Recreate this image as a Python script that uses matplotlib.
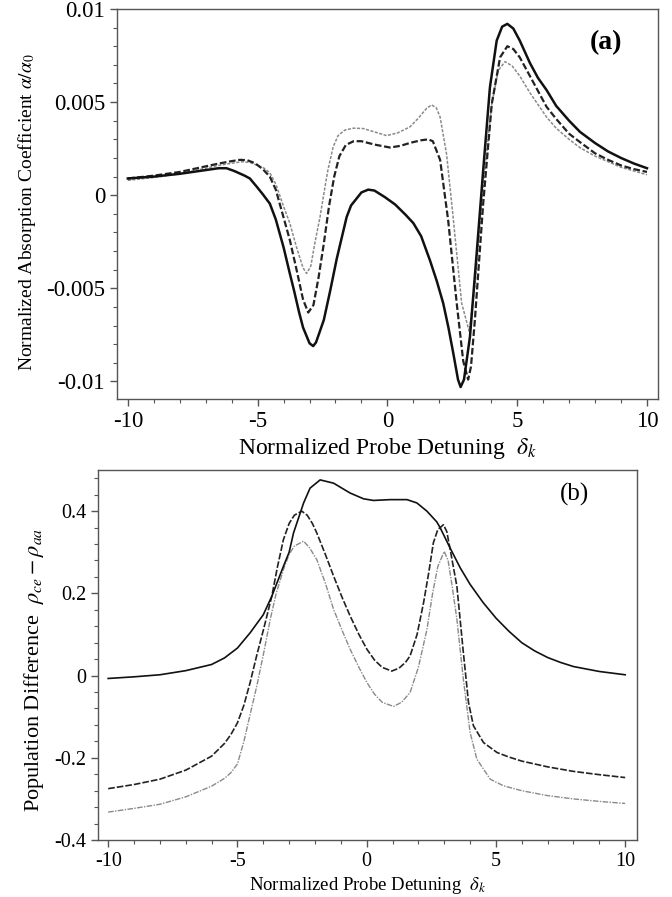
import numpy as np
import matplotlib
matplotlib.use("Agg")
import matplotlib.pyplot as plt
from matplotlib.ticker import MultipleLocator

plt.rcParams['font.family'] = ['Liberation Serif', 'DejaVu Serif']
plt.rcParams['mathtext.fontset'] = 'stix'

# ---- panel (a): absorption coefficient (values in units of 1e-3) ----
xa_solid = [-10, -9, -8, -7, -6.5, -6.2, -5.9, -5.5, -5.3, -5.0, -4.8, -4.53, -4.3, -4.0, -3.76,
            -3.6, -3.4, -3.25, -3.0, -2.86, -2.75, -2.6, -2.45, -2.2, -1.95, -1.57, -1.4, -1.0,
            -0.74, -0.5, -0.1, 0.3, 0.7, 1.0, 1.3, 1.64, 1.9, 2.15, 2.35, 2.54, 2.72, 2.82,
            2.95, 3.18, 3.44, 3.69, 3.95, 4.21, 4.42, 4.62, 4.85, 5.1, 5.49, 5.8, 6.13, 6.5,
            7.0, 7.42, 8.0, 8.5, 9.0, 9.5, 10]
ya_solid = [0.9, 1.0, 1.15, 1.35, 1.45, 1.45, 1.3, 1.05, 0.9, 0.4, 0.05, -0.45, -1.3, -2.8, -4.2,
            -5.1, -6.3, -7.1, -7.95, -8.1, -7.9, -7.3, -6.7, -5.1, -3.4, -1.17, -0.55, 0.15,
            0.3, 0.25, -0.1, -0.5, -1.05, -1.5, -2.2, -3.5, -4.6, -5.8, -7.1, -8.5, -9.9, -10.3,
            -9.9, -7.6, -3.1, 1.34, 5.8, 8.3, 9.05, 9.2, 8.95, 8.3, 7.1, 6.3, 5.65, 4.8,
            4.0, 3.4, 2.8, 2.35, 2.0, 1.7, 1.45]

xa_dash = [-10, -9, -8, -7, -6.5, -6.0, -5.68, -5.4, -5.1, -4.8, -4.53, -4.3, -4.0, -3.76, -3.5,
           -3.25, -3.05, -2.85, -2.65, -2.45, -2.25, -2.05, -1.85, -1.6, -1.3, -1.0, -0.5, 0.1,
           0.5, 0.9, 1.3, 1.57, 1.75, 2.03, 2.34, 2.67, 2.92, 3.11, 3.22, 3.37, 3.69, 4.02,
           4.34, 4.62, 4.85, 5.1, 5.49, 6.13, 6.5, 7.0, 7.42, 8, 8.5, 9, 9.5, 10]
ya_dash = [0.9, 1.05, 1.25, 1.55, 1.7, 1.83, 1.9, 1.88, 1.72, 1.4, 1.0, 0.3, -1.2, -2.4, -4.0,
           -5.6, -6.3, -5.9, -4.4, -2.6, -0.6, 1.0, 2.1, 2.7, 2.9, 2.9, 2.72, 2.56,
           2.65, 2.82, 2.95, 3.0, 2.9, 1.9, -1.34, -5.8, -8.9, -9.9, -9.2, -6.7, -0.45, 4.9,
           7.4, 8.0, 7.85, 7.4, 6.4, 4.75, 4.1, 3.3, 2.85, 2.25, 1.9, 1.6, 1.4, 1.25]

xa_gray = [-10, -9, -8, -7, -6.5, -6.07, -5.6, -5.3, -5.0, -4.75, -4.53, -4.3, -4.0, -3.76, -3.5,
           -3.25, -3.11, -2.95, -2.8, -2.6, -2.47, -2.3, -2.09, -1.9, -1.64, -1.3, -0.93, -0.5,
           -0.03, 0.4, 0.87, 1.2, 1.5, 1.7, 1.88, 2.03, 2.28, 2.54, 2.86, 3.15, 3.37, 3.69,
           4.02, 4.27, 4.53, 4.8, 5.1, 5.49, 6.13, 6.5, 7.0, 7.42, 8, 8.5, 9, 9.5, 10]
ya_gray = [0.8, 0.95, 1.15, 1.45, 1.6, 1.7, 1.8, 1.76, 1.6, 1.45, 1.2, 0.6, -0.6, -1.5, -2.8,
           -3.9, -4.2, -3.8, -2.6, -1.2, -0.1, 1.3, 2.6, 3.2, 3.5, 3.6, 3.58, 3.4,
           3.2, 3.35, 3.67, 4.15, 4.65, 4.85, 4.7, 4.2, 2.2, -1.3, -5.8, -7.3, -4.9, 0.45,
           4.9, 6.7, 7.17, 6.95, 6.4, 5.5, 4.2, 3.6, 3.0, 2.55, 2.1, 1.8, 1.5, 1.3, 1.1]

# ---- panel (b): population difference ----
xb_solid = [-10, -9, -8, -7, -6, -5.5, -5, -4.51, -4, -3.67, -3.22, -3.0, -2.83, -2.44, -2.19,
            -1.8, -1.28, -0.64, -0.12, 0.26, 0.91, 1.56, 1.94, 2.33, 2.71, 2.84, 3.23, 3.62,
            4.0, 4.5, 5, 5.5, 6, 6.5, 7, 7.5, 8, 9, 10]
yb_solid = [-0.007, -0.003, 0.002, 0.012, 0.027, 0.043, 0.067, 0.104, 0.148, 0.193, 0.266, 0.30,
            0.347, 0.42, 0.456, 0.476, 0.468, 0.444, 0.43, 0.426, 0.428, 0.428, 0.42, 0.40,
            0.374, 0.36, 0.31, 0.262, 0.222, 0.178, 0.14, 0.108, 0.08, 0.06, 0.044, 0.032,
            0.022, 0.01, 0.002]

xb_dash = [-10, -9, -8, -7, -6, -5.5, -5.25, -5, -4.75, -4.51, -4.25, -4, -3.67, -3.45, -3.22,
           -3.0, -2.8, -2.51, -2.3, -2.1, -1.93, -1.6, -1.28, -0.95, -0.64, -0.3, 0.01, 0.3,
           0.6, 0.97, 1.25, 1.5, 1.68, 1.95, 2.2, 2.4, 2.58, 2.75, 2.97, 3.1, 3.25, 3.49,
           3.74, 3.94, 4.13, 4.52, 5.04, 5.5, 6, 7, 8, 9, 10]
yb_dash = [-0.275, -0.265, -0.252, -0.23, -0.196, -0.165, -0.143, -0.115, -0.072, -0.017, 0.05,
           0.11, 0.193, 0.265, 0.331, 0.37, 0.39, 0.4, 0.39, 0.37, 0.347, 0.295, 0.242, 0.19,
           0.145, 0.1, 0.064, 0.038, 0.02, 0.011, 0.018, 0.032, 0.048, 0.1, 0.177, 0.25,
           0.323, 0.355, 0.367, 0.35, 0.3, 0.217, 0.056, -0.066, -0.122, -0.163, -0.187,
           -0.198, -0.208, -0.222, -0.233, -0.241, -0.248]

xb_gray = [-10, -9, -8, -7, -6, -5.5, -5.25, -5, -4.75, -4.51, -4.25, -4, -3.73, -3.5, -3.22,
           -3.0, -2.8, -2.44, -2.2, -1.93, -1.6, -1.28, -0.95, -0.64, -0.3, 0.01, 0.3, 0.6,
           1.04, 1.35, 1.68, 2.0, 2.33, 2.55, 2.75, 3.0, 3.15, 3.3, 3.49, 3.74, 4.0, 4.26,
           4.78, 5.29, 6, 7, 8, 9, 10]
yb_gray = [-0.332, -0.323, -0.313, -0.295, -0.269, -0.25, -0.236, -0.215, -0.16, -0.095,
           -0.025, 0.05, 0.137, 0.2, 0.258, 0.295, 0.315, 0.327, 0.31, 0.282, 0.225, 0.161,
           0.11, 0.064, 0.02, -0.017, -0.045, -0.065, -0.075, -0.065, -0.041, 0.02, 0.112,
           0.2, 0.265, 0.302, 0.28, 0.22, 0.137, -0.009, -0.138, -0.203, -0.252, -0.268,
           -0.28, -0.292, -0.3, -0.306, -0.311]

fig = plt.figure(figsize=(6.72, 8.97), dpi=100)
ax1 = fig.add_axes([0.174, 0.555, 0.805, 0.435])
ax2 = fig.add_axes([0.146, 0.0635, 0.802, 0.4125])

ax1.plot(xa_gray, np.array(ya_gray) * 1e-3, color='#8a8a8a', lw=1.1, ls=(0, (2, 1)))
ax1.plot(xa_dash, np.array(ya_dash) * 1e-3, color='#222222', lw=1.6, ls=(0, (3, 1.2)))
ax1.plot(xa_solid, np.array(ya_solid) * 1e-3, color='#111111', lw=1.8)
ax1.set_xlim(-10.42, 10.42)
ax1.set_ylim(-0.01095, 0.01)
ax1.set_yticks([-0.01, -0.005, 0, 0.005, 0.01])
ax1.set_yticklabels(['-0.01', '-0.005', '0', '0.005', '0.01'])
ax1.set_xticks([-10, -5, 0, 5, 10])
ax1.set_xticklabels(['-10', '-5', '0', '5', '10'])
ax1.xaxis.set_minor_locator(MultipleLocator(1))
ax1.yaxis.set_minor_locator(MultipleLocator(0.001))
ax1.set_xlabel(r'Normalized Probe Detuning  $\delta_k$', fontsize=17, labelpad=3)
ax1.set_ylabel(r'Normalized Absorption Coefficient $\alpha/\alpha_0$', fontsize=14, labelpad=6)
ax1.yaxis.label.set_y(0.48)
ax1.text(0.935, 0.913, '(a)', transform=ax1.transAxes, fontsize=20, fontweight='bold',
         ha='right', va='center')

ax2.plot(xb_gray, yb_gray, color='#8a8a8a', lw=1.0, ls=(0, (4, 1, 1, 1)))
ax2.plot(xb_dash, yb_dash, color='#222222', lw=1.2, ls=(0, (4, 1.2)))
ax2.plot(xb_solid, yb_solid, color='#111111', lw=1.2)
ax2.set_xlim(-10.39, 10.46)
ax2.set_ylim(-0.4, 0.5)
ax2.set_yticks([-0.4, -0.2, 0, 0.2, 0.4])
ax2.set_yticklabels(['-0.4', '-0.2', '0', '0.2', '0.4'])
ax2.set_xticks([-10, -5, 0, 5, 10])
ax2.set_xticklabels(['-10', '-5', '0', '5', '10'])
ax2.xaxis.set_minor_locator(MultipleLocator(1))
ax2.yaxis.set_minor_locator(MultipleLocator(0.04))
ax2.set_xlabel(r'Normalized Probe Detuning  $\delta_k$', fontsize=13.5, labelpad=3)
ax2.set_ylabel(r'Population Difference  $\rho_{ce}-\rho_{aa}$', fontsize=16, labelpad=6)
ax2.yaxis.label.set_y(0.46)
ax2.text(0.911, 0.935, '(b)', transform=ax2.transAxes, fontsize=18, ha='right', va='center')

for ax, fs in ((ax1, 16.5), (ax2, 14.5)):
    for s in ax.spines.values():
        s.set_color('#555555')
        s.set_linewidth(1.0)
    ax.tick_params(which='major', direction='out', length=5, width=1, color='#555555',
                   labelsize=fs, top=False, right=False)
    ax.tick_params(which='minor', direction='out', length=3, width=0.8, color='#555555',
                   top=False, right=False)

fig.savefig('out.png', dpi=100)
